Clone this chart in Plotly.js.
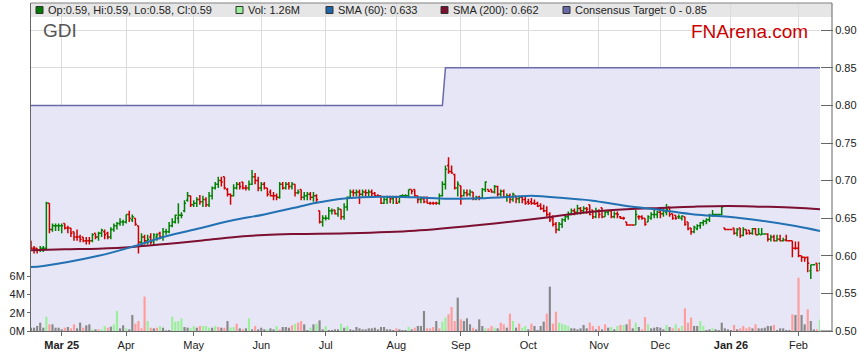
<!DOCTYPE html>
<html><head><meta charset="utf-8">
<script src="https://cdn.plot.ly/plotly-3.0.1.min.js"></script>
<style>html,body{margin:0;padding:0;background:#fff;}#c{width:859px;height:363px;}</style>
</head><body><div id="c"></div>
<script>
// ---- data ----
const open = [
.620,.610,.610,.608,.610,.610,.670,.635,.640,.640, .640,.643,.637,.637,.632,.625,.625,.625,.620,.620,
.620,.630,.625,.630,.632,.630,.625,.635,.640,.643, .645,.645,.655,.648,.650,.640,.618,.625,.620,.625,
.620,.625,.630,.625,.632,.632,.640,.645,.650,.654, .660,.674,.680,.668,.670,.675,.672,.675,.668,.680,
.690,.695,.700,.705,.688,.682,.680,.690,.695,.698, .690,.690,.695,.705,.700,.690,.695,.690,.685,.680,
.680,.678,.695,.690,.695,.692,.695,.684,.688,.678, .680,.682,.678,.680,.660,.645,.650,.650,.660,.661,
.656,.662,.652,.665,.678,.685,.684,.685,.682,.685, .684,.685,.683,.680,.680,.670,.675,.678,.676,.678,
.672,.680,.680,.680,.688,.688,.680,.675,.676,.678, .670,.670,.670,.670,.680,.695,.720,.712,.708,.690,
.693,.680,.684,.682,.685,.676,.678,.677,.688,.688, .688,.685,.692,.682,.686,.678,.680,.675,.680,.676,
.678,.675,.672,.672,.670,.670,.667,.663,.660,.655, .650,.642,.635,.642,.648,.652,.656,.660,.658,.663,
.660,.663,.668,.661,.652,.660,.664,.652,.658,.660, .652,.656,.652,.650,.645,.641,.641,.641,.652,.652,
.650,.645,.650,.655,.655,.658,.656,.658,.665,.656, .654,.652,.650,.652,.645,.637,.632,.636,.640,.644,
.646,.648,.654,.655,.655,.655,.637,.635,.635,.637, .630,.637,.627,.635,.634,.630,.636,.628,.628,.629,
.629,.622,.625,.620,.622,.620,.621,.620,.620,.610, .610,.600,.598,.598,.580,.588,.590,.590];
const high = [
.620,.613,.610,.613,.613,.672,.670,.643,.643,.643, .643,.643,.640,.637,.632,.635,.628,.625,.625,.625,
.630,.630,.632,.636,.635,.632,.638,.643,.645,.650, .648,.655,.660,.655,.650,.640,.630,.628,.628,.630,
.630,.630,.632,.637,.636,.645,.650,.655,.670,.658, .674,.685,.680,.674,.678,.681,.680,.678,.685,.692,
.698,.705,.705,.705,.690,.683,.695,.698,.698,.698, .694,.700,.714,.710,.705,.698,.698,.690,.688,.685,
.683,.698,.698,.698,.698,.698,.695,.688,.688,.685, .685,.685,.685,.682,.660,.654,.654,.665,.663,.661,
.665,.662,.670,.679,.688,.688,.688,.688,.688,.688, .688,.688,.685,.682,.680,.679,.680,.680,.680,.680,
.680,.682,.682,.688,.688,.688,.680,.679,.679,.679, .672,.672,.672,.683,.699,.720,.731,.720,.709,.699,
.693,.688,.688,.688,.685,.680,.680,.690,.699,.688, .688,.694,.693,.688,.688,.683,.683,.684,.680,.680,
.680,.679,.676,.677,.675,.672,.670,.668,.666,.658, .654,.645,.645,.650,.655,.659,.663,.663,.668,.665,
.666,.665,.668,.661,.664,.662,.664,.661,.661,.660, .659,.659,.653,.652,.645,.642,.642,.661,.654,.654,
.650,.654,.658,.661,.660,.661,.663,.669,.665,.656, .654,.655,.654,.652,.645,.637,.640,.642,.645,.648,
.650,.656,.661,.656,.656,.666,.637,.636,.636,.637, .637,.637,.638,.635,.634,.637,.637,.637,.637,.630,
.630,.628,.628,.628,.628,.624,.628,.621,.620,.619, .619,.600,.599,.599,.588,.589,.590,.590];
const low = [
.610,.603,.603,.605,.605,.608,.630,.632,.633,.633, .630,.635,.630,.625,.620,.620,.618,.618,.615,.615,
.618,.622,.620,.625,.622,.622,.622,.632,.635,.640, .640,.643,.645,.645,.640,.603,.612,.615,.615,.615,
.615,.620,.622,.620,.628,.630,.638,.643,.643,.650, .658,.672,.665,.665,.665,.668,.665,.665,.665,.675,
.688,.690,.692,.688,.679,.668,.679,.688,.688,.688, .687,.687,.694,.695,.686,.686,.688,.679,.679,.674,
.674,.676,.688,.688,.688,.688,.679,.682,.674,.674, .674,.674,.672,.670,.643,.639,.647,.648,.655,.655,
.652,.648,.648,.660,.677,.679,.679,.669,.679,.679, .679,.679,.679,.679,.669,.669,.669,.670,.669,.669,
.670,.678,.678,.678,.682,.679,.670,.670,.670,.670, .668,.668,.668,.668,.679,.688,.709,.709,.688,.679,
.668,.679,.679,.679,.674,.674,.674,.676,.685,.685, .684,.683,.679,.679,.677,.672,.670,.672,.670,.670,
.670,.668,.668,.668,.668,.665,.661,.658,.652,.645, .639,.630,.633,.637,.645,.648,.654,.654,.655,.655,
.656,.656,.654,.649,.650,.650,.650,.652,.654,.650, .650,.650,.649,.648,.640,.640,.640,.641,.648,.648,
.640,.645,.648,.650,.650,.650,.652,.654,.652,.648, .648,.649,.647,.640,.634,.628,.630,.634,.636,.640,
.642,.645,.652,.654,.654,.654,.634,.634,.634,.628, .626,.624,.626,.628,.628,.628,.628,.628,.628,.628,
.619,.619,.619,.619,.619,.619,.619,.619,.598,.608, .598,.592,.592,.578,.569,.587,.579,.580];
const close = [
.610,.610,.608,.610,.610,.670,.635,.640,.640,.640, .640,.637,.637,.630,.625,.625,.622,.620,.620,.620,
.628,.625,.630,.634,.628,.625,.635,.640,.643,.645, .645,.655,.650,.652,.642,.618,.625,.620,.622,.618,
.628,.628,.625,.632,.632,.640,.645,.654,.654,.654, .670,.680,.668,.670,.675,.672,.675,.668,.680,.690,
.695,.700,.698,.690,.682,.680,.690,.695,.692,.690, .690,.695,.705,.700,.690,.695,.690,.682,.680,.680,
.678,.695,.690,.695,.692,.695,.684,.685,.678,.680, .682,.678,.680,.675,.645,.650,.650,.660,.660,.656,
.662,.652,.665,.678,.685,.684,.685,.682,.685,.684, .685,.683,.680,.680,.670,.675,.678,.676,.678,.670,
.680,.680,.680,.688,.686,.680,.675,.676,.672,.670, .670,.670,.670,.680,.695,.715,.712,.710,.690,.695,
.680,.684,.682,.685,.676,.678,.677,.688,.698,.686, .685,.692,.682,.686,.678,.680,.675,.682,.676,.678,
.675,.670,.670,.670,.669,.666,.663,.660,.655,.648, .642,.635,.642,.648,.652,.656,.660,.658,.663,.660,
.663,.662,.655,.652,.660,.655,.652,.658,.660,.652, .656,.655,.650,.650,.641,.641,.641,.655,.652,.650,
.642,.652,.655,.655,.658,.656,.660,.662,.655,.650, .650,.652,.653,.642,.636,.632,.638,.640,.644,.646,
.648,.654,.655,.655,.655,.665,.635,.635,.635,.630, .635,.627,.635,.630,.630,.636,.628,.629,.629,.629,
.622,.625,.620,.622,.620,.621,.620,.620,.610,.610, .600,.598,.597,.590,.588,.588,.580,.590];
// volume in millions, and bar colour class (1 up, -1 down, 0 flat)
const volume = [
.36,.36,.55,.91,.36,1.56,.73,.73,.36,.36, .18,.36,.44,.29,.73,.29,.91,.36,.62,.73,
.18,.18,.18,.18,.55,.36,.47,.73,2.18,.29, .62,.29,.18,1.75,.80,1.09,.29,3.75,1.09,.36,
.29,.36,.55,.36,.07,.11,1.56,1.02,1.09,1.38, .44,.36,.29,.55,.36,.55,.55,.55,.36,.36,
.55,.44,.36,.36,1.09,.36,.44,.80,.29,.18, .29,1.38,.18,.55,.18,.36,.18,.18,.29,.18,
.55,.18,.44,.44,.36,.62,.80,.91,1.09,.73, .11,.36,.73,.80,1.16,.18,.55,.11,.11,.18,
.18,.80,.36,.55,.18,.11,.44,.29,.18,.18, .29,.29,.36,.18,.44,.44,.18,.18,.11,.29,
.18,.11,.11,.44,.18,.36,.55,.55,2.18,.29, .29,.44,1.09,.29,1.02,1.46,1.82,2.62,1.09,3.64,
1.27,1.09,1.38,.73,.36,.18,1.27,.55,.29,.29, .55,.36,.29,.91,.73,.36,1.89,1.09,.36,.80,
.36,.55,.18,.80,.55,.11,.55,1.02,1.89,4.84, .80,2.11,.91,.80,.66,.55,.29,.29,.18,.29,
.66,.29,.91,.55,.18,.55,.18,.73,.36,.44, .18,.55,.66,.66,.73,1.27,.29,.91,.44,.18,
1.53,.73,.29,.36,.44,.36,.18,.66,.44,.29, .73,.29,.55,2.47,.91,1.46,.55,.55,1.09,.55,
.11,.18,.29,.18,.11,.91,.29,.18,.11,.66, .18,.29,.55,.29,.44,.29,.73,.29,.29,.36,
.55,.55,.66,.11,.29,.29,.11,.11,1.82,1.75, 5.82,1.75,.73,2.37,1.09,.18,.18,1.26];
const volDir = [
0,0,0,0,0,1,-1,0,0,0, 0,-1,0,-1,-1,0,0,-1,0,0,
1,0,-1,1,1,-1,0,1,1,0, 0,1,0,0,-1,-1,-1,-1,1,-1,
0,-1,1,0,0,0,1,1,1,1, 0,0,1,1,0,-1,1,1,1,0,
1,-1,0,-1,0,1,1,-1,0,-1, 0,1,0,-1,0,0,0,1,0,0,
1,-1,0,0,0,-1,1,-1,-1,0, 0,1,0,1,0,0,1,0,0,0,
0,1,0,1,0,0,0,0,0,0, 0,0,0,0,0,0,0,0,0,-1,
0,0,0,1,0,-1,0,0,0,-1, -1,-1,0,-1,1,1,-1,-1,-1,0,
-1,0,0,0,-1,0,0,0,1,-1, -1,1,0,-1,-1,0,-1,1,0,-1,
1,1,0,-1,0,0,0,0,-1,0, -1,-1,1,1,1,1,0,0,0,0,
0,0,-1,-1,0,-1,0,-1,0,1, 0,1,-1,1,0,-1,0,1,0,-1,
-1,1,0,0,0,0,0,1,0,-1, 1,-1,1,-1,-1,-1,0,0,1,1,
0,0,1,0,0,0,0,0,0,-1, 0,-1,-1,-1,-1,0,-1,0,0,0,
0,0,-1,0,0,0,0,0,-1,0, -1,0,0,-1,0,0,-1,1];
// moving averages (bar index, value)
const sma60Idx = [0,4,22,33,44,55,65,76,87,92,103,114,125,136,146,157,163,168,179,183,194,205,216,227,238,249,257];
const sma60Val = [.585,.5865,.600,.612,.626,.6366,.6467,.655,.665,.6698,.6765,.6786,.6778,.676,.6765,.6786,.680,.6786,.675,.6733,.6662,.661,.655,.652,.6467,.6396,.633];
const sma200Idx = [0,11,22,33,44,55,65,76,87,103,125,146,168,179,183,194,205,216,227,238,249,257];
const sma200Val = [.6073,.6086,.6095,.6117,.6157,.620,.6245,.6277,.629,.630,.6334,.641,.651,.657,.6587,.6618,.6636,.6653,.6662,.6653,.664,.662];
// consensus target (bar index, value)
const targetIdx = [0,134,135,257];
const targetVal = [0.80,0.80,0.85,0.85];
// month ticks
const monthIdx = [10,31,53,75,96,119,140,162,185,205,228,250];
const monthLbl = ['<b>Mar 25</b>','Apr','May','Jun','Jul','Aug','Sep','Oct','Nov','Dec','<b>Jan 26</b>','Feb'];
const priceTicks = [0.50,0.55,0.60,0.65,0.70,0.75,0.80,0.85,0.90];
const volTicks = [0,2,4,6];

// ---- drawing ----
const N = close.length;
const xs = close.map((_, i) => i);
const FONT = 'Liberation Sans, Arial, sans-serif';
const L = 31, R = 820, T = 3, B = 331, W = R - L, H = B - T;
const fx = p => (p - L) / W, fy = p => (B - p) / H;
const volColor = {1: '#9bef9b', '-1': '#ff9c9c', 0: '#888888'};
const priceRange = [0.5, 0.5 + H/752];

const traces = [
  {type:'scatter', x:targetIdx, y:targetVal, mode:'lines', fill:'tozeroy',
   fillcolor:'rgb(230,230,246)', line:{color:'#6a6aaa', width:1.5}, hoverinfo:'skip'},
  {type:'bar', x:xs, y:volume, yaxis:'y2', width:0.7,
   marker:{color:volDir.map(d => volColor[d]), line:{width:0}}, hoverinfo:'skip'},
  {type:'ohlc', x:xs, open:open, high:high, low:low, close:close, yaxis:'y3', tickwidth:0.5,
   increasing:{line:{color:'#008000', width:1.5}}, decreasing:{line:{color:'#d00000', width:1.5}}, hoverinfo:'skip'},
  {type:'scatter', x:sma200Idx, y:sma200Val, yaxis:'y3', mode:'lines', line:{color:'#7d0f30', width:2, shape:'spline'}, hoverinfo:'skip'},
  {type:'scatter', x:sma60Idx, y:sma60Val, yaxis:'y3', mode:'lines', line:{color:'#2271b3', width:2, shape:'spline'}, hoverinfo:'skip'}
];

const sq = (px, col) => ({type:'rect', xref:'paper', yref:'paper', x0:fx(px), x1:fx(px+7), y0:fy(13.5), y1:fy(6.5),
  fillcolor:col, line:{color:'#333', width:1}, layer:'above'});
const ann = (px, py, txt, size, col, xa) => ({xref:'paper', yref:'paper', x:fx(px), y:fy(py), text:txt, showarrow:false,
  xanchor:xa||'left', yanchor:'middle', font:{family:FONT, size:size, color:col}, borderpad:0});
const f2 = v => v.toFixed(2);

const layout = {
  width:859, height:363, margin:{l:L, r:859-R, t:T, b:363-B, pad:0},
  paper_bgcolor:'#fff', plot_bgcolor:'#fff', showlegend:false, dragmode:false,
  xaxis:{range:[0, N-1], tickvals:monthIdx, ticktext:monthLbl, ticks:'outside', ticklen:4, tickcolor:'#666',
    showgrid:true, gridcolor:'#dcdcdc', showline:true, linecolor:'#666', zeroline:false,
    rangeslider:{visible:false}, tickfont:{family:FONT, size:11, color:'#222'}},
  yaxis:{side:'right', range:priceRange, tickvals:priceTicks, tickformat:'.2f',
    ticks:'outside', ticklen:12, tickcolor:'#666', showgrid:true, gridcolor:'#dcdcdc',
    showline:false, zeroline:false, tickfont:{family:FONT, size:11, color:'#222'}},
  yaxis2:{overlaying:'y', side:'left', range:[0, H/9.165], tickvals:volTicks, ticktext:volTicks.map(v => v + 'M'),
    ticks:'outside', ticklen:3, tickcolor:'#666', showgrid:false, showline:true, linecolor:'#666',
    zeroline:false, tickfont:{family:FONT, size:11, color:'#222'}},
  yaxis3:{overlaying:'y', side:'right', range:priceRange, showgrid:false, showticklabels:false,
    ticks:'', showline:false, zeroline:false},
  shapes:[
    {type:'rect', xref:'paper', yref:'paper', x0:0, x1:fx(832), y0:fy(17), y1:1, fillcolor:'#e6e6e6', line:{width:0}, layer:'below'},
    {type:'line', xref:'paper', yref:'paper', x0:0, x1:fx(832), y0:1, y1:1, line:{color:'#808080', width:1}, layer:'above'},
    {type:'line', xref:'paper', yref:'paper', x0:fx(832), x1:fx(832), y0:0, y1:1, line:{color:'#666', width:1}, layer:'above'},
    {type:'line', xref:'paper', yref:'paper', x0:1, x1:fx(832), y0:0, y1:0, line:{color:'#666', width:1}, layer:'above'},
    sq(36,'#007a00'), sq(236,'#9bef9b'), sq(326,'#1f66a8'), sq(441,'#7d0f30'), sq(563,'#6a6aaa')
  ],
  annotations:[
    ann(47, 10, 'Op:' + f2(open[N-1]) + ', Hi:' + f2(high[N-1]) + ', Lo:' + f2(low[N-1]) + ', Cl:' + f2(close[N-1]), 11, '#222'),
    ann(247, 10, 'Vol: ' + f2(volume[N-1]) + 'M', 11, '#222'),
    ann(337, 10, 'SMA (60): ' + sma60Val[sma60Val.length-1].toFixed(3), 11, '#222'),
    ann(452, 10, 'SMA (200): ' + sma200Val[sma200Val.length-1].toFixed(3), 11, '#222'),
    ann(574, 10, 'Consensus Target: 0 - ' + f2(targetVal[targetVal.length-1]), 11, '#222'),
    ann(42, 31, 'GDI', 19, '#555'),
    ann(809, 32, 'FNArena.com', 19, '#cc0000', 'right')
  ]
};
Plotly.newPlot('c', traces, layout, {staticPlot:true, displayModeBar:false});
</script></body></html>
